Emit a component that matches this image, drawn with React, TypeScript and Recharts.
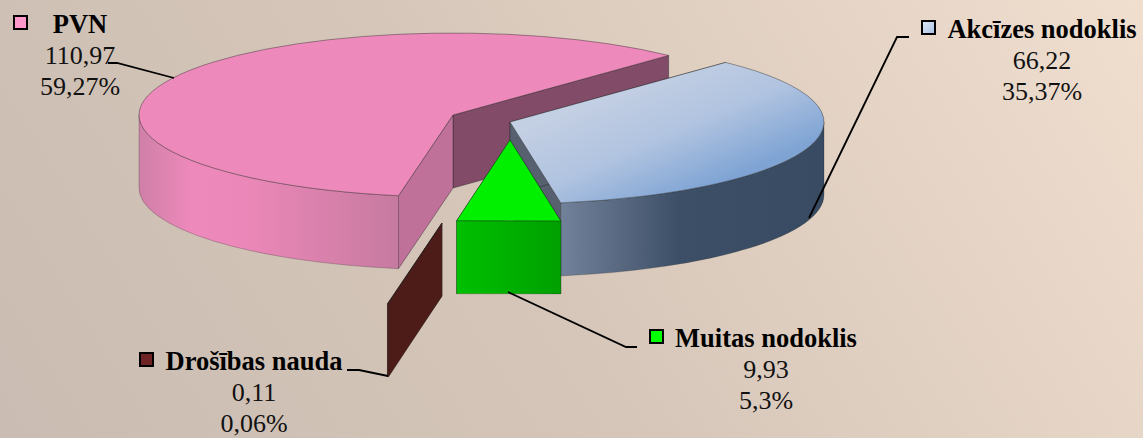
import React from "react";
import { PieChart, Pie } from "recharts";

const categories = ["PVN", "Akcīzes nodoklis", "Muitas nodoklis", "Drošības nauda"];
const amounts = [110.97, 66.22, 9.93, 0.11];

const data = categories.map((name, i) => ({ name, value: amounts[i] }));
const total = amounts.reduce((a, b) => a + b, 0);

const WIDTH = 1143;
const HEIGHT = 438;
const RADIUS = 314;
const TILT = 0.261; // squash of the circle into the 3d ellipse
const DEPTH = 73;
const FONT = "'Liberation Serif', 'Times New Roman', serif";

// how far each slice is pulled out of the pie, in pixels
const explode: Record<string, [number, number]> = {
  PVN: [-28, -4],
  "Akcīzes nodoklis": [29, 3],
  "Muitas nodoklis": [29, 21],
  "Drošības nauda": [-39, 104],
};

const looks: Record<string, { top: string; wall: string; cut: string; key: string }> = {
  PVN: { top: "#ee8abb", wall: "url(#wallPink)", cut: "#bf7199", key: "#ff99cc" },
  "Akcīzes nodoklis": { top: "url(#topBlue)", wall: "url(#wallBlue)", cut: "#56606e", key: "url(#keyBlue)" },
  "Muitas nodoklis": { top: "#00f000", wall: "url(#wallGreen)", cut: "#009000", key: "#00ff00" },
  "Drošības nauda": { top: "#4e1c18", wall: "#4e1c18", cut: "#4e1c18", key: "#6e2424" },
};

// the cut face of PVN at its far end is darker than the near one
const backCut = "#824c68";

// label placement: [key x, key y], centre x of the text, name baseline, leader points
const labelSpots: Record<string, { key: [number, number]; x: number; y: number; line: string }> = {
  PVN: { key: [14, 16], x: 80, y: 33, line: "108,63 117,63 174,78" },
  "Akcīzes nodoklis": { key: [922, 21], x: 1042, y: 38, line: "909,37 897,37 809,218" },
  "Muitas nodoklis": { key: [650, 330], x: 766, y: 347, line: "637,347 626,347 508,292" },
  "Drošības nauda": { key: [140, 353], x: 254, y: 370, line: "347,370 359,370 388,376" },
};

const comma = (n: number) => String(Number(n.toFixed(2))).replace(".", ",");

const rad = (a: number) => (a * Math.PI) / 180;

function Slice3D(props: any) {
  const name = props.payload?.name ?? props.name;
  const { cx, cy, outerRadius, startAngle, endAngle } = props;
  const [ox, oy] = explode[name];
  const ax = cx + ox;
  const ay = cy + oy;
  const rx = outerRadius;
  const ry = outerRadius * TILT;
  const hi = Math.max(startAngle, endAngle);
  const lo = Math.min(startAngle, endAngle);
  const pt = (a: number): [number, number] => [
    ax + rx * Math.cos(rad(a)),
    ay - ry * Math.sin(rad(a)),
  ];
  const look = looks[name];
  const edge = { stroke: "#222", strokeWidth: 0.6, strokeOpacity: 0.7 };
  const wallEdge = { stroke: "#222", strokeWidth: 0.5, strokeOpacity: 0.5 };
  // small slices come out with a straight rim in the original
  const flat = hi - lo < 25;
  const rim = (p: [number, number], sweep: number) =>
    flat ? `L${p[0]},${p[1]}` : `A${rx},${ry} 0 0 ${sweep} ${p[0]},${p[1]}`;

  const cutFace = (a: number) => {
    const p = pt(a);
    return `M${ax},${ay} L${p[0]},${p[1]} L${p[0]},${p[1] + DEPTH} L${ax},${ay + DEPTH} Z`;
  };

  // only the front half of the rim can be seen
  const walls: string[] = [];
  [
    [-180, 0],
    [180, 360],
  ].forEach(([w0, w1]) => {
    const a0 = Math.max(lo, w0);
    const a1 = Math.min(hi, w1);
    if (a1 <= a0) return;
    const s = pt(a1);
    const e = pt(a0);
    walls.push(
      `M${s[0]},${s[1]} ${rim(e, 1)} L${e[0]},${e[1] + DEPTH} ${rim([s[0], s[1] + DEPTH], 0)} Z`,
    );
  });

  const s = pt(hi);
  const e = pt(lo);
  const top = flat
    ? `M${ax},${ay} L${s[0]},${s[1]} L${e[0]},${e[1]} Z`
    : `M${ax},${ay} L${s[0]},${s[1]} A${rx},${ry} 0 ${hi - lo > 180 ? 1 : 0} 1 ${e[0]},${e[1]} Z`;

  return (
    <g>
      <path d={cutFace(lo)} fill={name === "PVN" ? backCut : look.cut} {...edge} />
      <path d={cutFace(hi)} fill={look.cut} {...edge} />
      {walls.map((d) => (
        <path key={d} d={d} fill={look.wall} {...wallEdge} />
      ))}
      <path d={top} fill={look.top} {...edge} />
    </g>
  );
}

function SliceLabel(props: any) {
  const name = props.payload?.name ?? props.name;
  const spot = labelSpots[name];
  const value = amounts[categories.indexOf(name)];
  const common = { x: spot.x, textAnchor: "middle" as const, fontFamily: FONT, fill: "#111" };
  return (
    <g>
      <polyline points={spot.line} fill="none" stroke="#000" strokeWidth={1.8} />
      <rect x={spot.key[0]} y={spot.key[1]} width={13} height={13} fill={looks[name].key} stroke="#000" strokeWidth={2} />
      <text {...common} y={spot.y} fontSize={26.5} fontWeight="bold" fill="#000">
        {name}
      </text>
      <text {...common} y={spot.y + 30.5} fontSize={26}>
        {comma(value)}
      </text>
      <text {...common} y={spot.y + 61.5} fontSize={26}>
        {comma((value / total) * 100)}%
      </text>
    </g>
  );
}

export default function App() {
  return (
    <div
      style={{
        position: "absolute",
        left: 0,
        top: 0,
        width: WIDTH,
        height: HEIGHT,
        background: "linear-gradient(58deg, #cabcb2 0%, #d6c6b9 45%, #f0dfcf 100%)",
      }}
    >
      <PieChart width={WIDTH} height={HEIGHT} margin={{ top: 0, right: 0, bottom: 0, left: 0 }}>
        <defs>
          <linearGradient id="wallPink" gradientUnits="userSpaceOnUse" x1="140" y1="0" x2="400" y2="0">
            <stop offset="0" stopColor="#cf80a8" />
            <stop offset="0.2" stopColor="#ee89bb" />
            <stop offset="0.4" stopColor="#ec88b9" />
            <stop offset="1" stopColor="#c67a9f" />
          </linearGradient>
          <linearGradient id="topBlue" gradientUnits="userSpaceOnUse" x1="640" y1="80" x2="690" y2="195">
            <stop offset="0" stopColor="#c3cfe3" />
            <stop offset="0.5" stopColor="#b0c3e0" />
            <stop offset="1" stopColor="#7fa4d4" />
          </linearGradient>
          <linearGradient id="wallBlue" gradientUnits="userSpaceOnUse" x1="560" y1="0" x2="824" y2="0">
            <stop offset="0" stopColor="#72829a" />
            <stop offset="0.45" stopColor="#3d4f66" />
            <stop offset="1" stopColor="#384b62" />
          </linearGradient>
          <linearGradient id="wallGreen" gradientUnits="userSpaceOnUse" x1="456" y1="0" x2="560" y2="0">
            <stop offset="0" stopColor="#00c000" />
            <stop offset="1" stopColor="#00a000" />
          </linearGradient>
          <linearGradient id="keyBlue" x1="0" y1="0" x2="1" y2="1">
            <stop offset="0" stopColor="#dfe7f3" />
            <stop offset="1" stopColor="#a9c2e6" />
          </linearGradient>
        </defs>
        <Pie
          data={data}
          dataKey="value"
          nameKey="name"
          cx={481}
          cy={119}
          innerRadius={0}
          outerRadius={RADIUS}
          startAngle={260}
          endAngle={-100}
          paddingAngle={0}
          stroke="none"
          shape={Slice3D}
          label={SliceLabel}
          labelLine={false}
          isAnimationActive={false}
        />
      </PieChart>
    </div>
  );
}
